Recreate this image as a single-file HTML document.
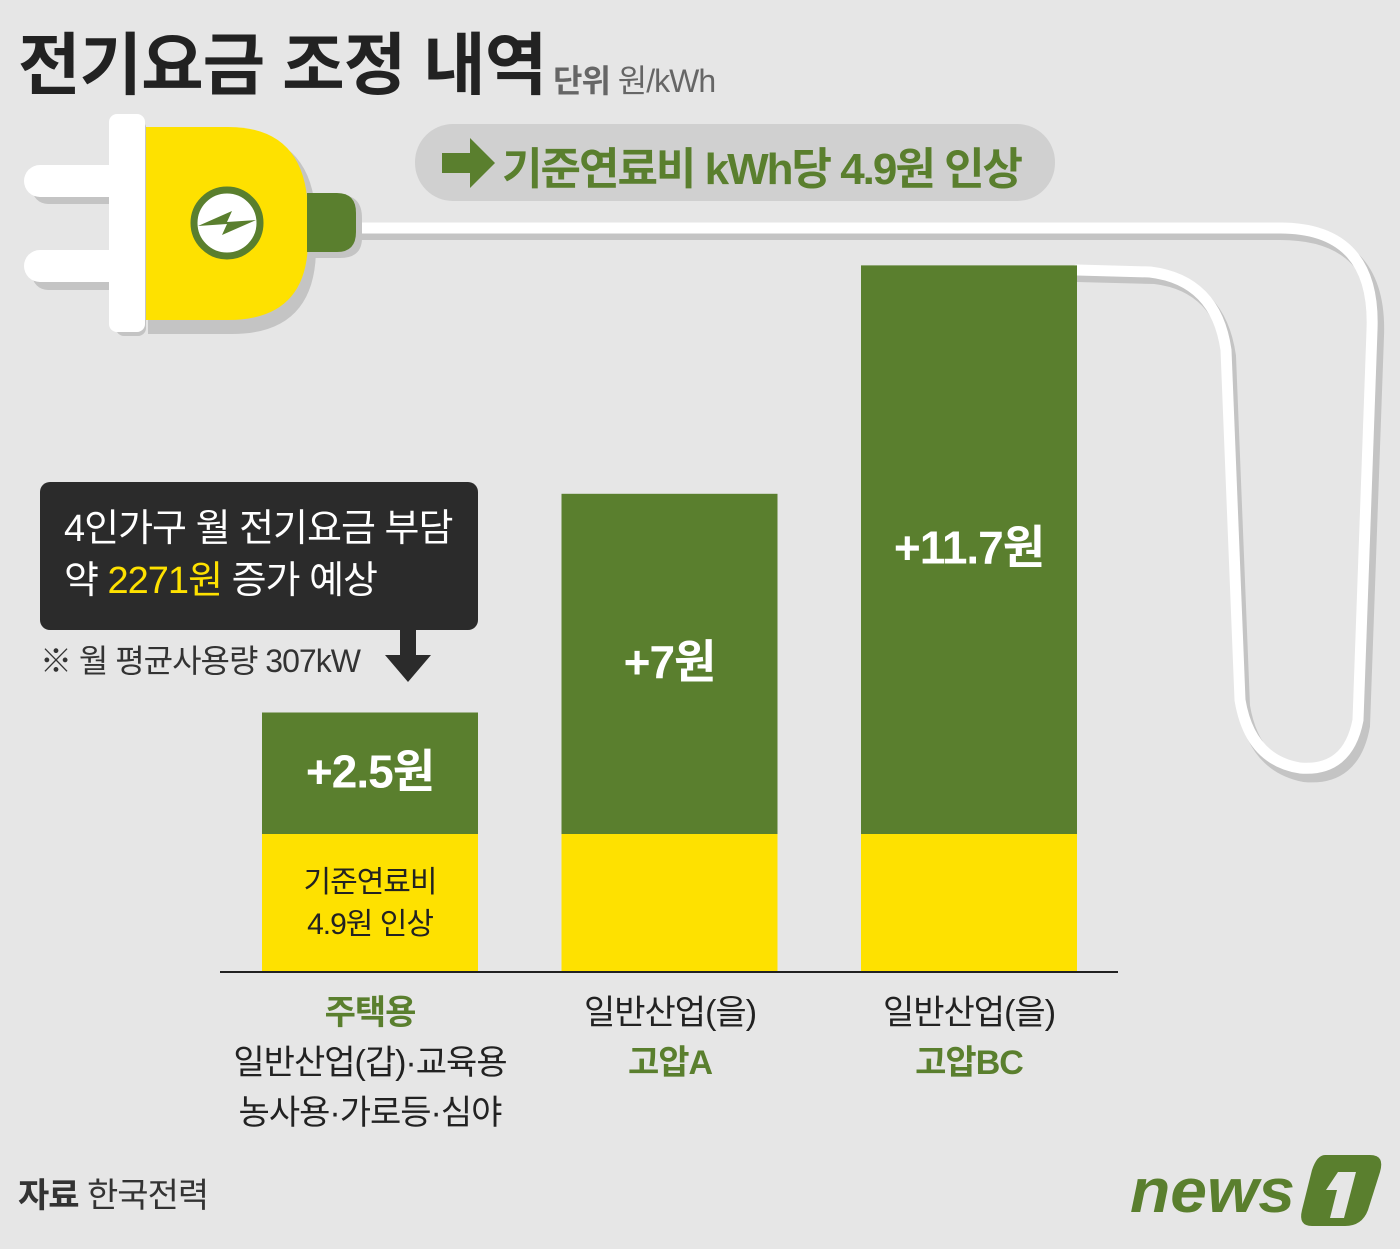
<!DOCTYPE html>
<html><head><meta charset="utf-8">
<style>
body{margin:0;background:#e6e6e6;}
#c{position:relative;width:1400px;height:1249px;background:#e6e6e6;overflow:hidden;font-family:"Liberation Sans","Noto Sans CJK KR",sans-serif;}
.t{position:absolute;white-space:nowrap;}
</style></head><body>
<div id="c">
<svg id="svg" width="1400" height="1249" style="position:absolute;left:0;top:0">
  <g fill="none" stroke-linecap="round">
    <path d="M355,234 L1280,234 Q1382,234 1378,336 L1364,726 Q1354,781 1304,776 Q1254,766 1244,706 L1230,356 Q1220,286 1155,278 L1077,276" stroke="#c4c4c4" stroke-width="12"/>
    <path d="M355,228 L1280,228 Q1376,228 1372,330 L1358,720 Q1348,772 1300,768 Q1250,760 1240,700 L1226,350 Q1216,280 1150,272 L1077,270" stroke="#fff" stroke-width="11"/>
  </g>
  <g>
    <rect x="32" y="172" width="110" height="32" rx="16" fill="#c4c4c4"/>
    <rect x="32" y="258" width="110" height="32" rx="16" fill="#c4c4c4"/>
    <rect x="24" y="165" width="110" height="32" rx="16" fill="#fff"/>
    <rect x="24" y="250" width="110" height="32" rx="16" fill="#fff"/>
    <path d="M148,133 L232,133 Q316,133 316,225 L316,248 Q316,334 232,334 L148,334 Z" fill="#c4c4c4"/>
    <path d="M143,127 L228,127 Q308,127 308,215 L308,240 Q308,320 228,320 L143,320 Z" fill="#fee100"/>
    <rect x="116" y="120" width="30" height="216" rx="8" fill="#c4c4c4"/>
    <rect x="109" y="114" width="36" height="218" rx="8" fill="#fff"/>
    <path d="M308,195 L340,195 Q362,195 362,218 L362,238 Q362,258 340,258 L308,258 Z" fill="#c4c4c4"/>
    <path d="M307,193 L337,193 Q356,193 356,213 L356,232 Q356,252 337,252 L307,252 Z" fill="#5a7f2e"/>
    <circle cx="227" cy="223" r="33" fill="#fff" stroke="#5a7f2e" stroke-width="7"/>
    <path d="M198,226 L232,211 L227,222 L256,220 L222,235 L227,224 Z" fill="#5a7f2e"/>
  </g>
  <g>
    <rect x="415" y="124" width="640" height="77" rx="38" fill="#d0d0d0"/>
    <path d="M442,153 L470,153 L470,138 L495,163 L470,188 L470,173 L442,173 Z" fill="#5a7f2e"/>
  </g>
  <g id="bars"></g>
  <line x1="220" y1="972" x2="1118" y2="972" stroke="#222" stroke-width="2"/>
  <g>
    <rect x="40" y="482" width="438" height="148" rx="10" fill="#2b2b2b"/>
    <path d="M400,630 L416,630 L416,655 L431,655 L408,682 L385,655 L400,655 Z" fill="#2b2b2b"/>
  </g>
  <g>
    <text x="1130" y="1212" font-size="62" font-weight="bold" font-style="italic" fill="#5a7f2e" font-family="Liberation Sans,sans-serif" textLength="165" lengthAdjust="spacingAndGlyphs">news</text>
    <path d="M1325,1155 L1370,1155 Q1385,1155 1380,1172 L1368,1210 Q1362,1226 1345,1226 L1312,1226 Q1298,1226 1302,1210 L1312,1170 Q1317,1155 1325,1155 Z" fill="#5a7f2e"/>
    <path d="M1338,1172 L1356,1172 L1344,1218 L1330,1218 L1337,1190 L1326,1190 Z" fill="#e6e6e6"/>
  </g>
</svg>
<div class="t" style="left:18px;top:10px;font-size:68px;font-weight:bold;color:#222;letter-spacing:-1px">전기요금 조정 내역</div>
<div class="t" style="left:553px;top:56px;font-size:32px;color:#666;letter-spacing:-1px"><b>단위</b> 원/kWh</div>
<div class="t" style="left:502px;top:133px;font-size:44px;font-weight:bold;color:#5a7f2e;letter-spacing:-2px">기준연료비 kWh당 4.9원 인상</div>
<div class="t" style="left:64px;top:503px;font-size:38px;color:#fff;line-height:52px;letter-spacing:-1px">4인가구 월 전기요금 부담<br>약 <span style="color:#fee100">2271원</span> 증가 예상</div>
<div class="t" style="left:40px;top:636px;font-size:32px;color:#333;letter-spacing:-1px">※ 월 평균사용량 307kW</div>
<div class="t" style="left:262px;top:862px;width:216px;text-align:center;font-size:30px;color:#222;line-height:42px;letter-spacing:-1px">기준연료비<br>4.9원 인상</div>
<div class="t" style="left:180px;top:988px;width:380px;text-align:center;font-size:34px;line-height:50px;color:#222;letter-spacing:-1px"><span style="color:#5a7f2e;font-weight:bold">주택용</span><br>일반산업(갑)·교육용<br>농사용·가로등·심야</div>
<div class="t" style="left:480px;top:988px;width:380px;text-align:center;font-size:34px;line-height:50px;color:#222;letter-spacing:-1px">일반산업(을)<br><span style="color:#5a7f2e;font-weight:bold">고압A</span></div>
<div class="t" style="left:779px;top:988px;width:380px;text-align:center;font-size:34px;line-height:50px;color:#222;letter-spacing:-1px">일반산업(을)<br><span style="color:#5a7f2e;font-weight:bold">고압BC</span></div>
<div class="t" style="left:18px;top:1168px;font-size:34px;color:#333;letter-spacing:-1px"><b>자료</b> 한국전력</div>
<script>
const categories = ["주택용", "고압A", "고압BC"];
const increases = [2.5, 7, 11.7];
const valueLabels = ["+2.5원", "+7원", "+11.7원"];
const baseFuel = [4.9, 4.9, 4.9];
const NS = "http://www.w3.org/2000/svg";
const baseY = 972, baseH = 138, pxPerUnit = 48.6, barW = 216;
const xPos = i => 262 + i * 299.5;
const yGreen = v => pxPerUnit * v;
const g = document.getElementById('bars');
categories.forEach((c, i) => {
  const x = xPos(i);
  const yl = document.createElementNS(NS, 'rect');
  yl.setAttribute('x', x); yl.setAttribute('y', baseY - baseH);
  yl.setAttribute('width', barW); yl.setAttribute('height', baseH);
  yl.setAttribute('fill', '#fee100');
  
  
  g.appendChild(yl);
  const h = yGreen(increases[i]);
  const gr = document.createElementNS(NS, 'rect');
  gr.setAttribute('x', x); gr.setAttribute('y', baseY - baseH - h);
  gr.setAttribute('width', barW); gr.setAttribute('height', h);
  gr.setAttribute('fill', '#5a7f2e');
  
  
  g.appendChild(gr);
  const t = document.createElementNS(NS, 'text');
  t.setAttribute('x', x + barW / 2);
  t.setAttribute('y', baseY - baseH - h / 2 + 14);
  t.setAttribute('text-anchor', 'middle');
  t.setAttribute('font-size', '46');
  t.setAttribute('font-weight', 'bold');
  t.setAttribute('fill', '#fff');
  t.setAttribute('letter-spacing', '-1');
  
  
  t.textContent = valueLabels[i];
  g.appendChild(t);
});
</script>
</div>
</body></html>
